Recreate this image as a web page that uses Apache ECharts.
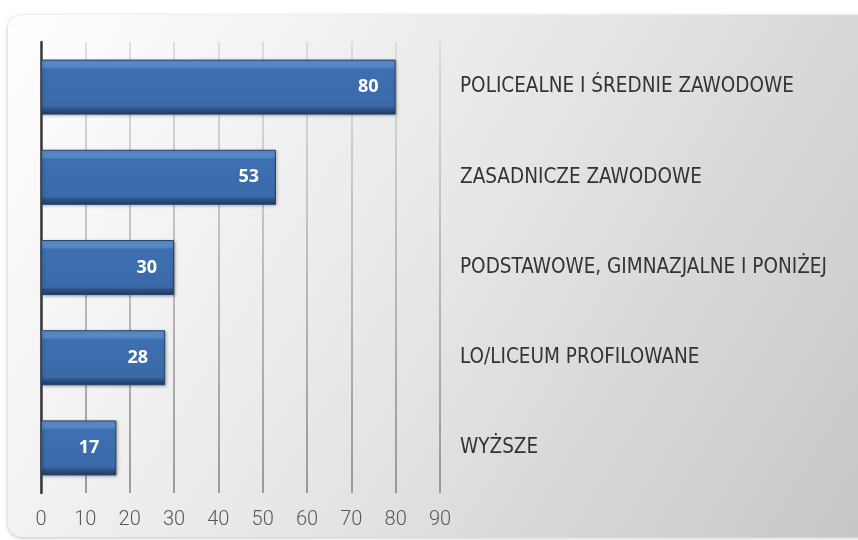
<!DOCTYPE html>
<html><head><meta charset="utf-8">
<script src="https://cdn.jsdelivr.net/npm/echarts@6/dist/echarts.min.js"></script>
<style>html,body{margin:0;padding:0;background:#fff}#c{width:858px;height:540px}</style>
</head><body><div id="c"></div>
<script>
const categories = ['POLICEALNE I ŚREDNIE ZAWODOWE','ZASADNICZE ZAWODOWE','PODSTAWOWE, GIMNAZJALNE I PONIŻEJ','LO/LICEUM PROFILOWANE','WYŻSZE'];
const values = [80, 53, 30, 28, 17];
const xMin = 0, xMax = 90, xStep = 10;

const chart = echarts.init(document.getElementById('c'));
chart.setOption({
  backgroundColor: '#ffffff',
  animation: false,
  graphic: [{
    type: 'rect', z: -10, silent: true,
    shape: {x: 8, y: 15, width: 860, height: 522, r: [14, 0, 0, 14]},
    style: {
      fill: new echarts.graphic.LinearGradient(0, 0, 1, 1, [
        {offset: 0, color: '#ffffff'}, {offset: 0.45, color: '#e9e9e9'}, {offset: 1, color: '#c6c6c6'}
      ]),
      shadowBlur: 4, shadowColor: 'rgba(0,0,0,0.25)', shadowOffsetX: 0, shadowOffsetY: 1
    }
  }],
  grid: {left: 41, right: 418, top: 42, bottom: 47, containLabel: false},
  xAxis: {
    type: 'value', min: xMin, max: xMax, interval: xStep,
    axisLine: {show: false}, axisTick: {show: false},
    splitLine: {show: true, lineStyle: {width: 1.5,
      color: new echarts.graphic.LinearGradient(0, 0, 0, 1, [
        {offset: 0, color: '#d6d6d6'}, {offset: 1, color: '#7f7f7f'}])}},
    axisLabel: {color: '#595959', fontFamily: 'Roboto, sans-serif', fontWeight: 300, fontSize: 20, margin: 17}
  },
  yAxis: [{
    type: 'category', data: categories, inverse: true, position: 'left',
    axisLine: {show: true, lineStyle: {color: '#3a3a3a', width: 2.5}},
    axisTick: {show: false}, axisLabel: {show: false}
  }, {
    type: 'category', data: categories, inverse: true, position: 'right',
    axisLine: {show: false}, axisTick: {show: false},
    axisLabel: {show: true, margin: 20, align: 'left', color: '#333333',
      fontFamily: 'DejaVu Sans Condensed, sans-serif', fontSize: 20.5}
  }],
  series: [{
    type: 'bar', data: values, yAxisIndex: 0, barWidth: 55,
    itemStyle: {
      color: new echarts.graphic.LinearGradient(0, 0, 0, 1, [
        {offset: 0, color: '#6294d2'}, {offset: 0.14, color: '#5284c4'},
        {offset: 0.17, color: '#3e6fb1'}, {offset: 0.85, color: '#3a6aa8'},
        {offset: 0.9, color: '#2d5386'}, {offset: 1, color: '#1f3c63'}
      ]),
      borderColor: '#24466f', borderWidth: 1,
      shadowColor: 'rgba(0,0,0,0.35)', shadowBlur: 3, shadowOffsetX: 1, shadowOffsetY: 1
    },
    label: {show: true, position: 'insideRight', distance: 17, color: '#ffffff',
      fontWeight: 'bold', fontSize: 18, fontFamily: 'Open Sans, sans-serif'}
  }]
});
</script></body></html>
